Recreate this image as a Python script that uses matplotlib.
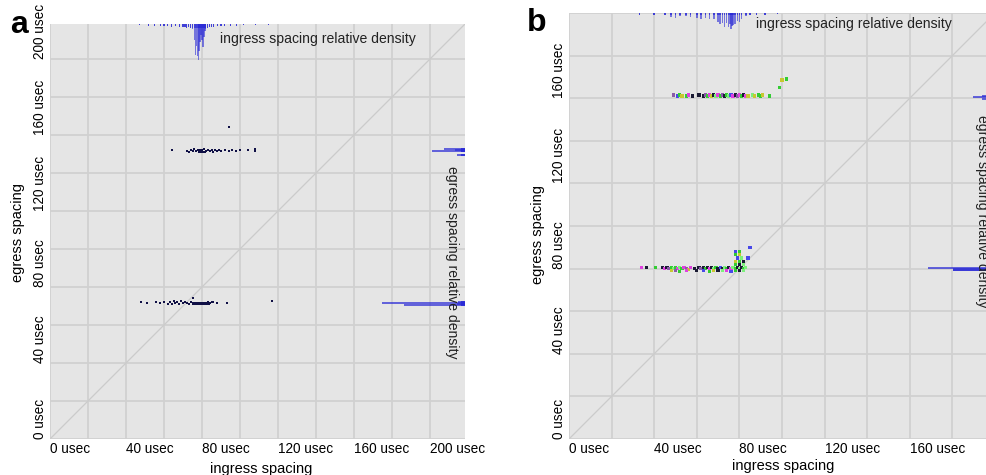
import matplotlib.pyplot as plt

plt.rcParams['font.family'] = ['Liberation Sans', 'DejaVu Sans']

# ---- panel a : ingress / egress spacing pairs (usec)
a_x = [48, 51, 56, 58, 60, 62, 63, 64, 65, 66, 67, 68, 69, 70, 71, 72, 73, 74, 75, 76,
       77, 78, 79, 80, 81, 82, 83, 84, 85, 86, 88, 93, 117, 75,
       75.5, 76.5, 77.5, 78.5, 79.5, 80.5, 81.5, 82.5, 83.5,
       64, 72, 73, 74, 75, 76, 77, 78, 79, 80, 81, 82, 83, 84, 85, 86, 87, 88,
       89, 90, 92, 94, 96, 98, 100, 104, 108, 108, 78.5, 79.5, 80.5, 81.5, 94]
a_y = [72, 71.5, 72, 71.5, 72, 71, 72, 71, 72.5, 71.5, 72, 71, 72.5, 71.5, 72, 71.5, 71, 72, 71.5, 71.5,
       71.5, 71.5, 71.5, 71.5, 71.5, 71.5, 72, 71.5, 72, 72, 71.5, 71.5, 72.5, 74,
       70.8, 70.8, 70.8, 70.8, 70.8, 70.8, 70.8, 70.8, 70.8,
       152, 151.5, 151, 152, 151.5, 152.5, 151.5, 152, 152, 152, 152.5, 151.5, 152, 151.5, 152, 151, 152, 151.5,
       152, 151.5, 152, 151.5, 152, 151.5, 152, 152, 151.5, 152.5, 151.3, 151.3, 151.3, 151.3, 164]

# ingress density along the top (relative)
a_ing_x = [47, 52, 55, 58, 60, 62, 64, 66, 68, 70, 71, 72, 73, 74, 75, 76, 76.5, 77, 77.5, 78, 78.5,
           79, 79.5, 80, 80.5, 81, 81.5, 82, 83, 84, 85, 86, 88, 90, 92, 95, 98, 102, 108, 115]
a_ing_rel = [0.04, 0.05, 0.05, 0.06, 0.05, 0.06, 0.07, 0.06, 0.07, 0.08, 0.07, 0.1, 0.09, 0.12, 0.15,
             0.45, 0.85, 0.6, 0.9, 1.0, 0.75, 0.5, 0.3, 0.45, 0.65, 0.35, 0.2, 0.15, 0.1, 0.08, 0.07,
             0.07, 0.06, 0.06, 0.05, 0.05, 0.05, 0.04, 0.04, 0.04]
# egress density along the right side (relative)
a_eg_y = [70.5, 71.0, 71.5, 72.0, 149.5, 151.5, 152.0, 152.5]
a_eg_rel = [0.74, 0.1, 1.0, 0.08, 0.1, 0.4, 0.12, 0.25]

# ---- panel b
b_x = [34, 36.5, 40.5, 44, 45, 46, 47, 48, 49, 50, 51, 52, 53, 54, 55, 56, 57, 59, 61, 62,
       63, 64, 65, 66, 67, 68, 69, 70, 71, 72, 73, 74, 75, 76, 77, 78, 79, 80, 81, 82, 83,
       48, 50, 52, 55, 60, 63, 66, 68, 70, 72, 74, 76, 78, 80, 82,
       78, 80, 82, 78, 80, 82, 79, 81, 84, 78, 80, 80, 78, 85,
       49, 51, 52, 53, 55, 56, 58, 61, 63, 64, 65, 66, 67, 68, 69, 70, 71, 72, 73, 74,
       75, 76, 77, 78, 79, 80, 81, 82, 83, 84, 86, 87, 89, 90, 91, 94, 99, 100, 102]
b_y = [80.5, 80.5, 80.5, 80.5, 80, 80.5, 80, 80.5, 80, 80.5, 80, 80.5, 80, 80.5, 80, 79.5, 80.5, 80, 80.5, 80,
       80.5, 80, 80.5, 80, 80.5, 80, 80.5, 80, 80.5, 80, 80.5, 80, 80.5, 80, 80.5, 80, 80.5, 80, 80.5, 80, 80.5,
       79, 79, 78.8, 79, 79, 79, 78.8, 79, 79, 79, 79, 78.8, 79, 79, 79,
       82, 82, 82, 83.5, 83.5, 83.5, 85, 85, 85, 86.5, 86.5, 88, 88, 90,
       161.5, 161, 161.5, 161, 161, 161.5, 161, 161.5, 161, 161.5, 161, 161.5, 161, 161.5, 161, 161.5, 161, 161.5, 161, 161.5,
       161, 161.5, 161, 161.5, 161, 161.5, 161, 161.5, 161, 161, 161.5, 161, 161.5, 161, 161.5, 161, 165, 168.5, 169]
b_c = [2, 0, 1, 0, 2, 0, 6, 1, 5, 1, 2, 5, 1, 2, 6, 4, 2, 0, 0, 6,
       0, 1, 0, 2, 0, 5, 1, 0, 3, 0, 5, 1, 0, 2, 5, 1, 0, 5, 0, 1, 5,
       4, 6, 1, 2, 0, 3, 1, 4, 0, 5, 2, 3, 1, 0, 5,
       1, 0, 5, 4, 1, 0, 3, 5, 3, 1, 4, 1, 3, 3,
       6, 3, 1, 4, 1, 2, 0, 0, 0, 6, 1, 2, 4, 0, 5, 2, 1, 6, 0, 1,
       5, 3, 2, 0, 6, 2, 1, 0, 2, 4, 5, 4, 1, 1, 4, 1, 1, 4, 1]
b_palette = ['#1a1a33', '#33cc33', '#e040e0', '#4848e8', '#c8c830', '#7cf07c', '#8a5aa8']

b_ing_x = [33, 40, 45, 48, 50, 52, 55, 57, 60, 62, 64, 66, 68, 70, 71, 72, 73, 74, 75, 75.5,
           76, 76.5, 77, 78, 79, 80, 81, 83, 85, 88, 92, 98]
b_ing_rel = [0.1, 0.1, 0.15, 0.25, 0.3, 0.2, 0.2, 0.25, 0.3, 0.35, 0.3, 0.35, 0.4, 0.55, 0.7, 0.6,
             0.85, 0.6, 0.9, 0.7, 1.0, 0.8, 0.75, 0.7, 0.5, 0.55, 0.35, 0.2, 0.15, 0.1, 0.1, 0.08]
b_eg_y = [79.2, 79.6, 80.4, 159.5, 160.4, 161.0]
b_eg_rel = [0.63, 0.63, 1.0, 0.2, 0.33, 0.2]

bg = '#e5e5e5'
grid_col = '#d0d0d0'
dens_col = '#2a2ad6'
fs = 9.8


def draw_panel(ax, lim, xs, ys, cols, msize, ing_x, ing_rel, ing_depth,
               eg_y, eg_rel, eg_len, tick_max, ing_text_xy, eg_text_xy):
    ax.set_facecolor(bg)
    for s in ax.spines.values():
        s.set_visible(False)
    ax.set_xlim(0, lim)
    ax.set_ylim(0, lim)
    ticks = list(range(0, 201, 20))
    labels = ['%d usec' % t if (t % 40 == 0 and t <= tick_max) else '' for t in ticks]
    ax.set_xticks(ticks)
    ax.set_yticks(ticks)
    ax.set_xticklabels(labels, ha='left', fontsize=fs)
    ax.set_yticklabels(labels, rotation=90, va='bottom', ha='right', fontsize=fs)
    ax.tick_params(length=0, pad=2.5)
    ax.grid(True, color=grid_col, lw=1.3)
    ax.set_axisbelow(True)

    # diagonal y = x
    ax.plot([0, lim], [0, lim], color='#cbcbcb', lw=0.9, zorder=1)

    # points
    ax.scatter(xs, ys, s=msize, marker='s', c=cols, linewidths=0, zorder=3)

    # ingress density hanging from the top
    ax.bar(ing_x, [-r * ing_depth for r in ing_rel], bottom=lim, width=0.7,
           color=dens_col, alpha=0.6, lw=0, zorder=2)
    ax.bar(ing_x, [-min(r * ing_depth, ing_depth * 0.1) for r in ing_rel], bottom=lim,
           width=0.7, color=dens_col, alpha=0.7, lw=0, zorder=2)
    # egress density from the right edge
    ax.barh(eg_y, [-r * eg_len for r in eg_rel], left=lim, height=1.0,
            color=dens_col, alpha=0.7, lw=0, zorder=2)
    ax.barh(eg_y, [-min(r * eg_len, 2.0) for r in eg_rel], left=lim, height=1.4,
            color=dens_col, alpha=0.85, lw=0, zorder=2)

    ax.text(ing_text_xy[0], ing_text_xy[1], 'ingress spacing relative density',
            fontsize=10.1, va='center', ha='left', color='#222222', zorder=4)
    ax.text(eg_text_xy[0], eg_text_xy[1], 'egress spacing relative density',
            fontsize=10.1, va='top', ha='center', rotation=-90, color='#222222', zorder=4)


W, H = 986, 475
fig = plt.figure(figsize=(W / 100, H / 100), dpi=100)

# panel a
ax_a = fig.add_axes([50 / W, (H - 439) / H, 415 / W, 415 / H])
draw_panel(ax_a, 218.4, a_x, a_y, '#101045', 4.5, a_ing_x, a_ing_rel, 19.0,
           a_eg_y, a_eg_rel, 43.7, 200, (89.5, 210.5), (211.6, 143.7))

# panel b (runs past the right edge of the figure, as in the original crop)
ax_b = fig.add_axes([569 / W, (H - 439) / H, 426 / W, 426 / H])
draw_panel(ax_b, 200, b_x, b_y, [b_palette[i] for i in b_c], 5.5, b_ing_x, b_ing_rel, 7.5,
           b_eg_y, b_eg_rel, 31.5, 160, (88, 195), (193.8, 152))

# axis titles
fig.text(18 / W, 1 - 233 / H, 'egress spacing', rotation=90, fontsize=10.5, ha='center', va='center')
fig.text(261 / W, 1 - 469 / H, 'ingress spacing', fontsize=10.5, ha='center', va='center')
fig.text(538 / W, 1 - 235 / H, 'egress spacing', rotation=90, fontsize=10.5, ha='center', va='center')
fig.text(783 / W, 1 - 466 / H, 'ingress spacing', fontsize=10.5, ha='center', va='center')

# panel letters
fig.text(19 / W, 1 - 25 / H, 'a', fontsize=23, fontweight='bold', ha='center', va='center')
fig.text(537 / W, 1 - 23 / H, 'b', fontsize=23, fontweight='bold', ha='center', va='center')

fig.savefig('out.png', dpi=100)
